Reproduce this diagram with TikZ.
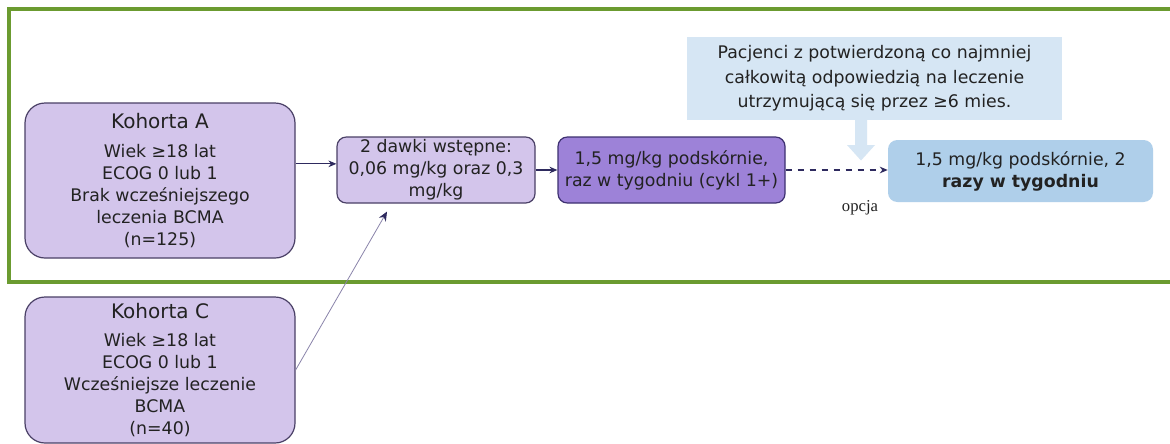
\documentclass[tikz,border=0pt]{standalone}
\usepackage{fontspec}
\setmainfont{DejaVu Sans}
\newfontfamily\optfont{Liberation Serif}
\usetikzlibrary{arrows.meta}
\definecolor{framegreen}{HTML}{6B9B30}
\definecolor{lav}{HTML}{D3C5EB}
\definecolor{lavborder}{HTML}{4A4066}
\definecolor{midpurple}{HTML}{9D82D8}
\definecolor{darkpurple}{HTML}{3D3070}
\definecolor{boxblue}{HTML}{AFCFEA}
\definecolor{callblue}{HTML}{D6E6F4}
\definecolor{navy}{HTML}{2E2A5E}
\definecolor{thinline}{HTML}{8A84AA}
\definecolor{txt}{HTML}{222222}
\newcommand\bodyfont{\fontsize{13pt}{16.5pt}\selectfont}
\newcommand\titlefont{\fontsize{15pt}{18pt}\selectfont}
\tikzset{
  cohort/.style={draw=lavborder, fill=lav, line width=0.9pt, rounded corners=15pt,
    align=center, inner sep=0pt, text=txt, font=\bodyfont,
    minimum width=202.5pt},
  dosebox/.style={draw=lavborder, fill=lav, line width=0.9pt, rounded corners=7pt,
    align=center, inner sep=0pt, text=txt, font=\bodyfont, minimum height=49.5pt},
  weekbox/.style={draw=darkpurple, fill=midpurple, line width=0.9pt, rounded corners=7pt,
    align=center, inner sep=0pt, text=txt, font=\bodyfont, minimum height=49.5pt},
  bluebox/.style={fill=boxblue, rounded corners=7pt,
    align=center, inner sep=0pt, text=txt, font=\bodyfont, minimum height=46.5pt},
  callout/.style={fill=callblue, align=center, inner sep=0pt, text=txt,
    font=\fontsize{13pt}{18.5pt}\selectfont},
  thinarrow/.style={draw=navy, line width=0.6pt, -{Stealth[length=6pt,width=5pt]}},
  grayarrow/.style={draw=thinline, line width=0.6pt, -{Stealth[length=7pt,width=6pt,color=navy]}},
  thickarrow/.style={draw=navy, line width=1.4pt, -{Stealth[length=6pt,width=5pt]}},
  dasharrow/.style={draw=navy, line width=1.4pt, dash pattern=on 5pt off 4pt, -{Stealth[length=6pt,width=5pt]}}
}
\begin{document}
\begin{tikzpicture}[x=0.75pt,y=-0.75pt]
\useasboundingbox (0,0) rectangle (1170,443);
\fill[white] (0,0) rectangle (1170,443);
% green frame
\draw[framegreen, line width=2.3pt] (1185,9) -- (9,9) -- (9,282) -- (1185,282);

% callout
\node[callout, minimum width=281.25pt, minimum height=62.25pt] (note) at (874.5,78.5)
  {Pacjenci z potwierdzoną co najmniej\\całkowitą odpowiedzią na leczenie\\utrzymującą się przez ≥6 mies.};
\fill[callblue] (855,119) -- (855,145) -- (847,145) -- (861,160.5) -- (875,145) -- (867,145) -- (867,119) -- cycle;

% cohorts
\node[cohort, minimum height=116.25pt] (A) at (160,180.5)
  {{\titlefont Kohorta A}\\[5pt]Wiek ≥18 lat\\ECOG 0 lub 1\\Brak wcześniejszego\\leczenia BCMA\\(n=125)};
\node[cohort, minimum height=109.5pt] (C) at (160,370)
  {{\titlefont Kohorta C}\\[5pt]Wiek ≥18 lat\\ECOG 0 lub 1\\Wcześniejsze leczenie\\BCMA\\(n=40)};

% dose boxes
\node[dosebox, minimum width=148.5pt] (D) at (436,170)
  {2 dawki wstępne:\\0,06 mg/kg oraz 0,3\\mg/kg};
\node[weekbox, minimum width=170.25pt] (P) at (671.5,170)
  {1,5 mg/kg podskórnie,\\raz w tygodniu (cykl 1+)};
\node[bluebox, minimum width=198.75pt] (B) at (1020.5,171)
  {1,5 mg/kg podskórnie, 2\\\textbf{razy w tygodniu}};

% connectors
\draw[thinarrow] ([yshift=12.5pt]A.east) -- ([yshift=12.5pt]A.east -| D.west);
\draw[grayarrow] (C.east) -- ([xshift=-36.75pt,yshift=-6pt]D.south);
\draw[thickarrow] (D.east) -- (P.west);
\draw[dasharrow] (P.east) -- (P.east -| B.west);
\node[font=\optfont\fontsize{12.5pt}{14pt}\selectfont, text=txt] (opt) at (860,208) {opcja};
\end{tikzpicture}
\end{document}
